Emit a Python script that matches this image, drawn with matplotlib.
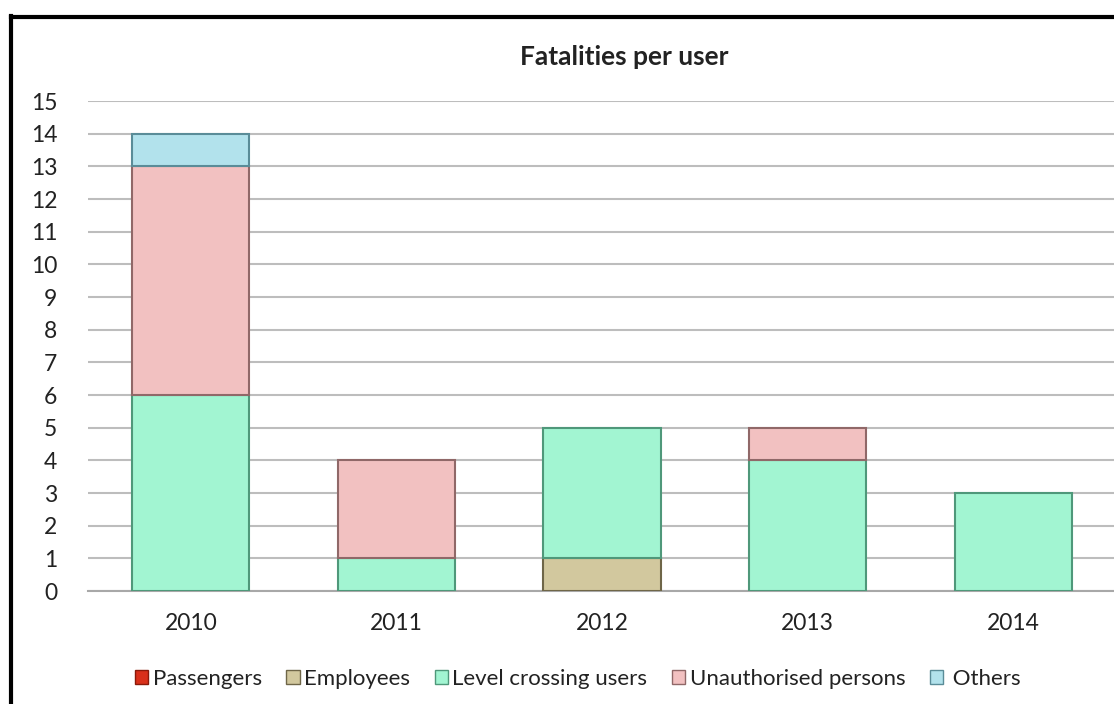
import numpy as np
import matplotlib.pyplot as plt
from matplotlib.lines import Line2D
from matplotlib.patches import Patch

# data
years = ["2010", "2011", "2012", "2013", "2014"]
passengers = [0, 0, 0, 0, 0]
employees = [0, 0, 1, 0, 0]
level_crossing = [6, 1, 4, 4, 3]
unauthorised = [7, 3, 0, 1, 0]
others = [1, 0, 0, 0, 0]

series = [("Passengers", passengers, "#D9301A", "#8A1A0A"),
          ("Employees", employees, "#D2C89E", "#6F6648"),
          ("Level crossing users", level_crossing, "#A2F5D2", "#4F987A"),
          ("Unauthorised persons", unauthorised, "#F2C1C1", "#906868"),
          ("Others", others, "#B2E2EC", "#5A8C98")]

plt.rcParams['font.family'] = ['Lato', 'DejaVu Sans']

fig = plt.figure(figsize=(11.14, 7.04), dpi=100)
ax = fig.add_axes([88/1114, (704-591)/704, 1 - 88/1114, (591-101)/704])

x = np.arange(len(years))
bottom = np.zeros(len(years))
for name, vals, col, edge in series:
    vals = np.array(vals, dtype=float)
    keep = vals > 0  # skip empty segments so no stray edge lines
    ax.bar(x[keep], vals[keep], 0.57, bottom=bottom[keep], color=col,
           edgecolor=edge, linewidth=1.5, zorder=3, label=name)
    bottom += vals

ax.set_xlim(-0.5, 4.49)
ax.set_ylim(0, 15)
ax.set_yticks(range(0, 16))
ax.set_xticks(x)
ax.set_xticklabels(years)
ax.yaxis.grid(True, color="#BDBDBD", linewidth=1.5, zorder=0)
ax.set_axisbelow(True)
for s in ["top", "right", "left"]:
    ax.spines[s].set_visible(False)
ax.spines["bottom"].set_color("#A8A8A8")
ax.spines["bottom"].set_linewidth(1.5)
ax.tick_params(axis="both", length=0, labelsize=16.5, colors="#222222")
ax.tick_params(axis="y", pad=22)
ax.tick_params(axis="x", pad=16)

fig.text(624/1114, 1 - 57/704, "Fatalities per user", ha="center", va="center",
         fontsize=19, fontweight="bold", color="#222222")

handles = [Patch(facecolor=c, edgecolor=e, label=n) for n, _, c, e in series]
labels = [n if n != "Others" else " Others" for n, _, _, _ in series]
fig.legend(handles=handles, labels=labels, loc="center",
           bbox_to_anchor=(578/1114, 1 - 679/704),
           ncol=5, frameon=False, fontsize=16, handlelength=0.6, handleheight=0.6,
           handletextpad=0.2, columnspacing=1.1, labelcolor="#222222")

# outer frame (top and left visible)
fig.add_artist(Line2D([11/1114, 11/1114], [0, 1 - 16/704], color="black",
                      linewidth=3, transform=fig.transFigure))
fig.add_artist(Line2D([11/1114, 1], [1 - 17/704, 1 - 17/704], color="black",
                      linewidth=3, transform=fig.transFigure))

plt.savefig("out.png", dpi=100)
